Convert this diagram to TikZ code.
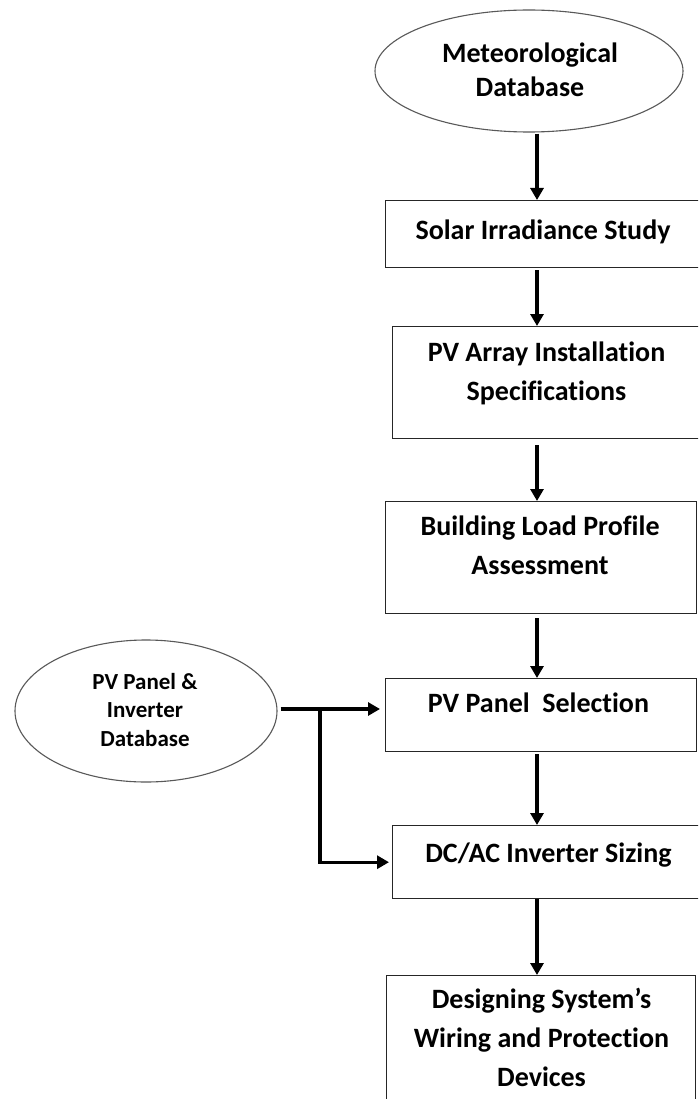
\documentclass[tikz,border=0pt]{standalone}
\usepackage{fontspec}
\setmainfont{Carlito}[Ligatures=CommonOff]
\usetikzlibrary{arrows.meta,shapes.geometric}
\newcommand\mlines[1]{\begin{tabular}[t]{@{}c@{}}#1\end{tabular}}
\begin{document}
\begin{tikzpicture}[x=1pt,y=-1pt,
  boxnode/.style={draw=black!85,line width=1.4pt,rectangle,inner sep=0pt,anchor=north west},
  ovalnode/.style={draw=black!65,line width=1.1pt,ellipse,inner sep=0pt},
  txt/.style={anchor=base,inner sep=0pt,font=\bfseries\fontsize{28}{39}\selectfont},
  mtxt/.style={anchor=base,inner sep=0pt,font=\bfseries\fontsize{28}{34}\selectfont},
  stxt/.style={anchor=base,inner sep=0pt,font=\bfseries\fontsize{23}{28.5}\selectfont},
  flow/.style={line width=3.3pt,-{Triangle[width=13pt,length=12pt]}}]
\useasboundingbox (0,0) rectangle (698,1099);
\clip (0,0) rectangle (698,1099);
\fill[white] (0,0) rectangle (698,1099);

% shapes
\node[ovalnode,minimum width=308pt,minimum height=122pt] (e1) at (529,71) {};
\node[ovalnode,minimum width=262pt,minimum height=142pt] (e2) at (146,711) {};
\node[boxnode,minimum width=340pt,minimum height=67pt] (b1) at (385,200) {};
\node[boxnode,minimum width=333pt,minimum height=112pt] (b2) at (392,326) {};
\node[boxnode,minimum width=311pt,minimum height=112pt] (b3) at (385,501) {};
\node[boxnode,minimum width=311pt,minimum height=73pt] (b4) at (385,678) {};
\node[boxnode,minimum width=333pt,minimum height=73pt] (b5) at (392,825) {};
\node[boxnode,minimum width=309pt,minimum height=150pt] (b6) at (386,975) {};

% texts
\node[mtxt] (t1) at (530,63) {\mlines{Meteorological\\Database}};
\node[txt] (t2) at (543,240) {Solar Irradiance Study};
\node[txt] (t3) at (546.5,361) {\mlines{PV Array Installation\\Specifications}};
\node[txt] (t4) at (540,535) {\mlines{Building Load Profile\\Assessment}};
\node[txt] (t5) at (538.5,712) {PV Panel\hspace{0.45em}Selection};
\node[txt] (t6) at (548.5,862) {DC/AC Inverter Sizing};
\node[txt] (t7) at (541.5,1008) {\mlines{Designing System’s\\Wiring and Protection\\Devices}};
\node[stxt] (t8) at (145,689) {\mlines{PV Panel \&\\Inverter\\Database}};

% connectors
\coordinate (col) at (537,0);
\draw[flow,shorten <=1pt] (e1.south -| col) -- (b1.north -| col);
\draw[flow,shorten <=2pt] (b1.south -| col) -- (b2.north -| col);
\draw[flow,shorten <=6pt] (b2.south -| col) -- (b3.north -| col);
\draw[flow,shorten <=4pt] (b3.south -| col) -- (b4.north -| col);
\draw[flow,shorten <=2pt] (b4.south -| col) -- (b5.north -| col);
\draw[flow,shorten <=0pt] (b5.south -| col) -- (b6.north -| col);
\coordinate (br) at (320,709);
\draw[flow,shorten <=3pt,shorten >=5pt] (e2.east |- br) -- (br -| b4.west);
\draw[flow,shorten >=3pt] (br) -- (br |- b5.west) -- (b5.west);
\end{tikzpicture}
\end{document}
